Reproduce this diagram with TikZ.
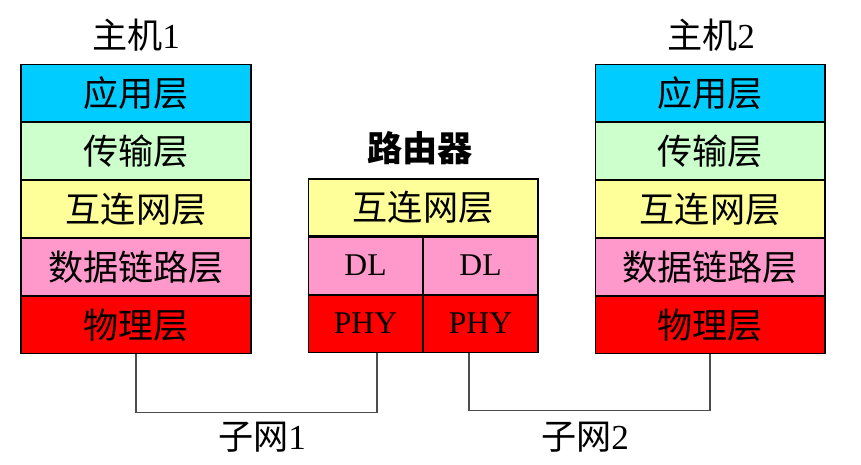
\documentclass[tikz,border=0pt]{standalone}
\usepackage{fontspec}
\setmainfont{Liberation Serif}
\newfontfamily\cjk{Noto Sans CJK SC}
\usetikzlibrary{positioning}
\definecolor{appcol}{HTML}{00CCFF}
\definecolor{trcol}{HTML}{CCFFCC}
\definecolor{netcol}{HTML}{FFFF99}
\definecolor{dlcol}{HTML}{FF99CC}
\definecolor{phycol}{HTML}{FF0000}
\tikzset{layer/.style={draw=black, line width=0.6pt, minimum width=4.6cm, minimum height=1.14cm, inner sep=0pt, font=\fontsize{20}{24}\selectfont\cjk},
         half/.style={layer, minimum width=2.3cm, font=\fontsize{18}{22}\selectfont\rmfamily},
         wire/.style={draw=black!70, line width=0.6pt},
         title/.style={font=\fontsize{20}{24}\selectfont\cjk}
}
\begin{document}
\begin{tikzpicture}[x=0.02cm, y=-0.02cm]
      \useasboundingbox (0,0) rectangle (861,465);
      % host 1
      \node[title] (t1) at (136,35) {主机{\rmfamily 1}};
      \node[layer, fill=appcol] (h1app) at (136,93) {应用层};
      \node[layer, fill=trcol, below=0pt of h1app] (h1tr) {传输层};
      \node[layer, fill=netcol, below=0pt of h1tr] (h1net) {互连网层};
      \node[layer, fill=dlcol, below=0pt of h1net] (h1dl) {数据链路层};
      \node[layer, fill=phycol, below=0pt of h1dl] (h1phy) {物理层};
      % router
      \node[title, font=\fontsize{20}{24}\selectfont\cjk\bfseries] (tr) at (420,148) {路由器};
      \node[layer, fill=netcol] (rnet) at (423,207.5) {互连网层};
      \node[half, fill=dlcol, anchor=north west] (rdl1) at (rnet.south west) {DL};
      \node[half, fill=dlcol, anchor=north east] (rdl2) at (rnet.south east) {DL};
      \node[half, fill=phycol, below=0pt of rdl1] (rphy1) {PHY};
      \node[half, fill=phycol, below=0pt of rdl2] (rphy2) {PHY};
      % host 2
      \node[title] (t2) at (711,35) {主机{\rmfamily 2}};
      \node[layer, fill=appcol] (h2app) at (710,93) {应用层};
      \node[layer, fill=trcol, below=0pt of h2app] (h2tr) {传输层};
      \node[layer, fill=netcol, below=0pt of h2tr] (h2net) {互连网层};
      \node[layer, fill=dlcol, below=0pt of h2net] (h2dl) {数据链路层};
      \node[layer, fill=phycol, below=0pt of h2dl] (h2phy) {物理层};
      % subnets
      \draw[wire] (h1phy.south) -- ++(0,58) -| ([xshift=0.23cm]rphy1.south);
      \draw[wire] ([xshift=-0.23cm]rphy2.south) -- ++(0,58) -| (h2phy.south);
      \node[title] (s1) at (262,437) {子网{\rmfamily 1}};
      \node[title] (s2) at (585,437) {子网{\rmfamily 2}};
\end{tikzpicture}
\end{document}
